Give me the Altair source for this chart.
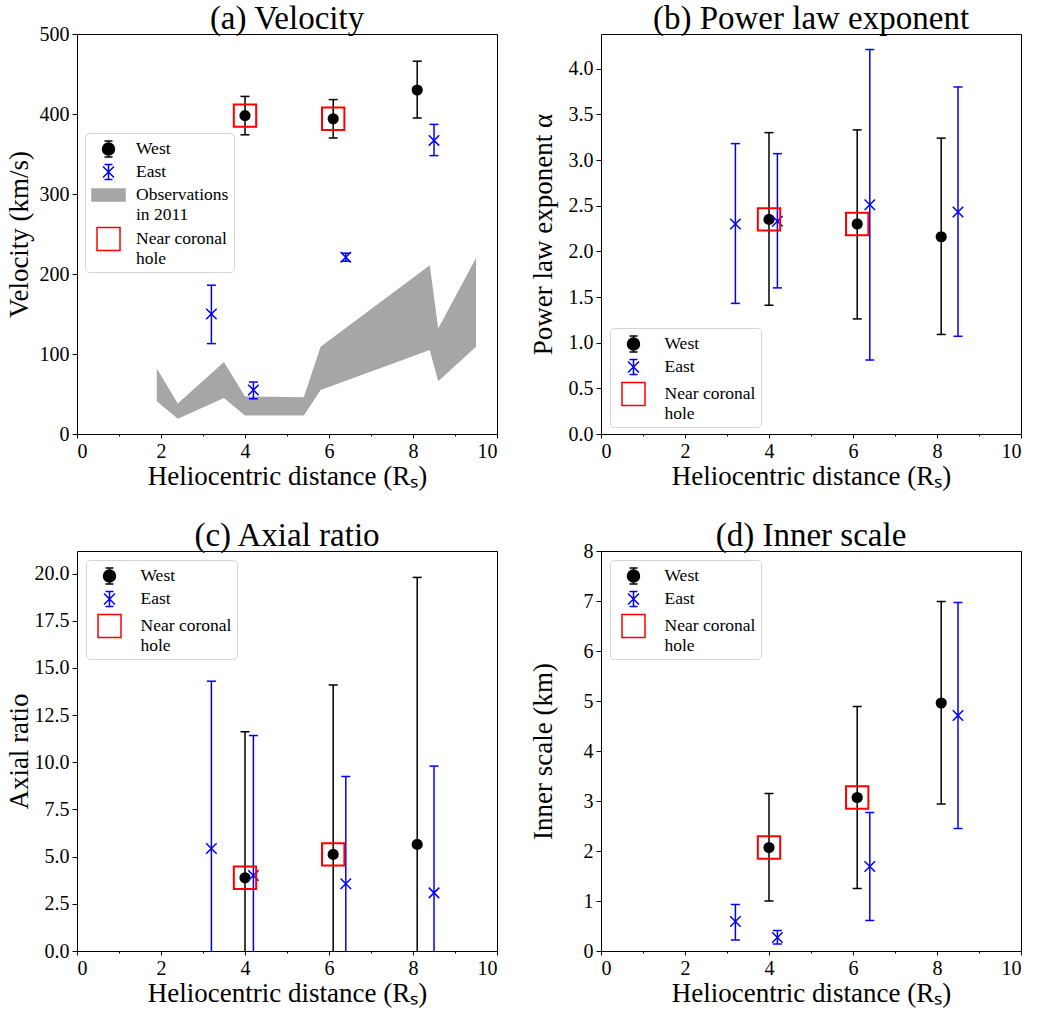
import altair as alt
import pandas as pd

FONT = "Liberation Serif"

# ---------------- data ----------------
west_x = [4.0, 6.1, 8.1]
east_x = [3.2, 4.2, 6.4, 8.5]
hole_x = [4.0, 6.1]

# (a) velocity (km/s)
vel_west = [398, 394, 430]
vel_west_lo = [374, 370, 395]
vel_west_hi = [422, 418, 466]
vel_east = [150, 55, 221, 367]
vel_east_lo = [113, 44, 216, 348]
vel_east_hi = [186, 65, 226, 387]

obs_x = [1.9, 2.4, 3.5, 4.0, 5.4, 5.8, 8.4, 8.6, 9.5]
obs_hi = [82, 38, 90, 47, 46, 109, 211, 132, 220]
obs_lo = [41, 19, 45, 23, 23, 55, 105, 66, 109]

# (b) power law exponent
pl_west = [2.35, 2.30, 2.16]
pl_west_lo = [1.41, 1.26, 1.09]
pl_west_hi = [3.30, 3.33, 3.24]
pl_east = [2.30, 2.33, 2.51, 2.43]
pl_east_lo = [1.43, 1.60, 0.81, 1.07]
pl_east_hi = [3.18, 3.07, 4.21, 3.80]

# (c) axial ratio
ar_west = [3.88, 5.12, 5.65]
ar_west_lo = [-3.86, -3.86, -8.5]
ar_west_hi = [11.62, 14.10, 19.80]
ar_east = [5.43, 4.00, 3.56, 3.08]
ar_east_lo = [-3.44, -3.42, -2.13, -3.64]
ar_east_hi = [14.30, 11.42, 9.25, 9.80]

# (d) inner scale (km)
is_west = [2.07, 3.07, 4.96]
is_west_lo = [1.00, 1.25, 2.94]
is_west_hi = [3.15, 4.89, 6.99]
is_east = [0.59, 0.27, 1.69, 4.71]
is_east_lo = [0.22, 0.14, 0.61, 2.45]
is_east_hi = [0.93, 0.41, 2.77, 6.97]

x_ticks = list(range(0, 11))

legend_labels_a = ["West", "East", "Observations|in 2011", "Near coronal|hole"]
legend_labels = ["West", "East", "Near coronal|hole"]

# legend glyphs (symbol paths in unit box)
P_WEST = ("M-0.6,0A0.6,0.6 0 1,0 0.6,0A0.6,0.6 0 1,0 -0.6,0Z"
          "M0,-0.8L0,0.8M-0.4,-0.8L0.4,-0.8M-0.4,0.8L0.4,0.8")
P_EAST = ("M-0.55,-0.55L0.55,0.55M-0.55,0.55L0.55,-0.55"
          "M0,-0.75L0,0.75M-0.4,-0.75L0.4,-0.75M-0.4,0.75L0.4,0.75")
P_OBS = "M-1.65,-0.6L1.65,-0.6L1.65,0.6L-1.65,0.6Z"
P_HOLE = "M-1.15,-1.15L1.15,-1.15L1.15,1.15L-1.15,1.15Z"

X_SHAPE = "M-1,-1L1,1M-1,1L1,-1"
CAP = "M-1,0L1,0"

BLACK = "#000000"
BLUE = "#0000ff"
RED = "#ff0000"
GREY = "#a6a6a6"


def panel(title, toff, ytitle, ydomain, yvalues, yfmt,
          w, wlo, whi, e, elo, ehi, leg_xy, with_obs=False):
    xs = alt.Scale(domain=[0, 10], nice=False, zero=False)
    ys = alt.Scale(domain=ydomain, nice=False, zero=False)
    xaxis = alt.Axis(
        values=x_ticks,
        labelExpr="datum.value % 2 ? '' : datum.label",
        tickSize={"condition": {"test": "datum.value % 2 == 1", "value": 2}, "value": 4},
        title="Heliocentric distance (Rₛ)",
    )
    yaxis = alt.Axis(values=yvalues, format=yfmt, title=ytitle)

    def X():
        return alt.X("x:Q", scale=xs, axis=xaxis)

    def Y(f):
        return alt.Y(f, type="quantitative", scale=ys, axis=yaxis)

    wdf = pd.DataFrame({"x": west_x, "y": w, "lo": wlo, "hi": whi})
    edf = pd.DataFrame({"x": east_x, "y": e, "lo": elo, "hi": ehi})
    hdf = pd.DataFrame({"x": hole_x, "y": w[:2]})

    layers = []
    if with_obs:
        odf = pd.DataFrame({"x": obs_x, "lo": obs_lo, "hi": obs_hi})
        layers.append(
            alt.Chart(odf).mark_area(color=GREY, opacity=1, interpolate="linear")
            .encode(x=X(), y=Y("lo"), y2="hi")
        )

    def series(df, color, shape, size, filled):
        rule = alt.Chart(df).mark_rule(color=color, strokeWidth=1.5, clip=True).encode(
            x=X(), y=Y("lo"), y2="hi")
        caps = (alt.Chart(df).transform_fold(["lo", "hi"], as_=["k", "v"])
                .mark_point(shape=CAP, size=81, filled=False, stroke=color,
                            strokeWidth=1.5, opacity=1, clip=True)
                .encode(x=X(), y=Y("v")))
        if filled:
            pts = alt.Chart(df).mark_point(shape=shape, size=size, filled=True,
                                           color=color, opacity=1, clip=True)
        else:
            pts = alt.Chart(df).mark_point(shape=shape, size=size, filled=False,
                                           stroke=color, strokeWidth=1.5, opacity=1, clip=True)
        pts = pts.encode(x=X(), y=Y("y"))
        return [rule, caps, pts]

    layers += series(wdf, BLACK, "circle", 125, True)
    layers += series(edf, BLUE, X_SHAPE, 110, False)
    layers.append(
        alt.Chart(hdf).mark_point(shape="square", size=500, filled=False, stroke=RED,
                                  strokeWidth=2, opacity=1)
        .encode(x=X(), y=Y("y"))
    )

    labels = legend_labels_a if with_obs else legend_labels
    fills = {"West": BLACK, "East": "transparent", "Observations|in 2011": GREY,
             "Near coronal|hole": "transparent"}
    strokes = {"West": BLACK, "East": BLUE, "Observations|in 2011": GREY,
               "Near coronal|hole": RED}
    shapes = {"West": P_WEST, "East": P_EAST, "Observations|in 2011": P_OBS,
              "Near coronal|hole": P_HOLE}
    sym_off, lab_off = (7.5, 16.5) if with_obs else (7.5, 20)
    leg = alt.Legend(
        title=None, orient="none", legendX=leg_xy[0], legendY=leg_xy[1],
        direction="vertical", padding=5, fillColor="white", strokeColor="#d4d4d4",
        cornerRadius=4, labelFont=FONT, labelFontSize=17.5, labelColor="black",
        symbolSize=400, symbolStrokeWidth=1.5, symbolOffset=sym_off, labelOffset=lab_off,
        rowPadding=1, symbolOpacity=1, labelLimit=0,
        labelExpr="split(datum.label, '|')",
    )
    ldf = pd.DataFrame({"label": labels})
    layers.append(
        alt.Chart(ldf).mark_point(filled=True, opacity=0).encode(
            fill=alt.Fill("label:N", scale=alt.Scale(domain=labels, range=[fills[l] for l in labels]), legend=leg),
            stroke=alt.Stroke("label:N", scale=alt.Scale(domain=labels, range=[strokes[l] for l in labels]), legend=leg),
            shape=alt.Shape("label:N", scale=alt.Scale(domain=labels, range=[shapes[l] for l in labels]), legend=leg),
        )
    )

    return alt.layer(*layers).properties(
        width=420, height=400,
        title=alt.TitleParams(title, offset=toff),
    )


pa = panel("(a) Velocity", -12, "Velocity (km/s)", [0, 500], [0, 100, 200, 300, 400, 500], "d",
           vel_west, vel_west_lo, vel_west_hi, vel_east, vel_east_lo, vel_east_hi,
           (8, 99), with_obs=True)
pb = panel("(b) Power law exponent", -2, "Power law exponent α", [0, 4.38],
           [0, 0.5, 1.0, 1.5, 2.0, 2.5, 3.0, 3.5, 4.0], ".1f",
           pl_west, pl_west_lo, pl_west_hi, pl_east, pl_east_lo, pl_east_hi, (9, 294))
pc = panel("(c) Axial ratio", -2, "Axial ratio", [0, 21.2],
           [0, 2.5, 5.0, 7.5, 10.0, 12.5, 15.0, 17.5, 20.0], ".1f",
           ar_west, ar_west_lo, ar_west_hi, ar_east, ar_east_lo, ar_east_hi, (9, 9))
pd_ = panel("(d) Inner scale", -12, "Inner scale (km)", [0, 8], list(range(0, 9)), "d",
            is_west, is_west_lo, is_west_hi, is_east, is_east_lo, is_east_hi, (9, 9))

IND = dict(fill="independent", stroke="independent", shape="independent")

row1 = alt.hconcat(pa, pb, spacing=30).resolve_scale(**IND).resolve_legend(**IND)
row2 = alt.hconcat(pc, pd_, spacing=30).resolve_scale(**IND).resolve_legend(**IND)

chart = alt.vconcat(row1, row2, spacing=29).resolve_scale(**IND).resolve_legend(**IND).properties(
    padding={"left": 4, "top": 2, "right": 5, "bottom": 5}
).configure_view(
    stroke="black", strokeWidth=1
).configure_axis(
    domain=False, grid=False, labelFont=FONT, labelFontSize=20, labelColor="black",
    titleFont=FONT, titleFontSize=27, titleFontWeight="normal", titleColor="black",
    tickColor="black", tickWidth=1, labelPadding=3,
).configure_axisY(
    minExtent=40, maxExtent=40, titlePadding=4,
).configure_axisX(
    titlePadding=2,
).configure_title(
    font=FONT, fontSize=33, fontWeight="normal", color="black", anchor="middle",
    frame="group", baseline="alphabetic",
)

chart.save("out.html", embed_options={"renderer": "svg", "actions": False})
